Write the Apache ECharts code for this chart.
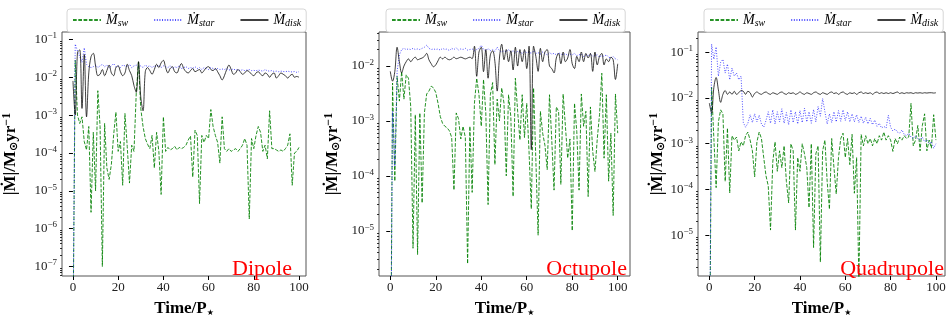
<!DOCTYPE html>
<html><head><meta charset="utf-8">
<script src="https://cdn.jsdelivr.net/npm/echarts@6/dist/echarts.min.js"></script>
<style>html,body{margin:0;padding:0;background:#fff}#c{width:951px;height:322px}</style>
</head><body><div id="c"></div>
<script>
const time = [0,1,2,3,4,5,6,7,8,9,10,11,12,13,14,15,16,17,18,19,20,21,22,23,24,25,26,27,28,29,30,31,32,33,34,35,36,37,38,39,40,41,42,43,44,45,46,47,48,49,50,51,52,53,54,55,56,57,58,59,60,61,62,63,64,65,66,67,68,69,70,71,72,73,74,75,76,77,78,79,80,81,82,83,84,85,86,87,88,89,90,91,92,93,94,95,96,97,98,99,100];

const xTicks = [0,20,40,60,80,100];
const yTicksDipole = [1e-7,1e-6,1e-5,1e-4,1e-3,1e-2,1e-1];
const yTicksOctupole = [1e-5,1e-4,1e-3,1e-2];
const yTicksQuadrupole = [1e-5,1e-4,1e-3,1e-2,1e-1];
const seriesNames = ['sw','star','disk'];
const panelTitles = ['Dipole','Octupole','Quadrupole'];

const dipoleSw = [1e-9,2.8e-2,1e-3,6e-4,9e-4,2e-4,1.2e-4,5e-4,2.7e-6,3.5e-4,
1e-5,4.4e-3,5e-4,1e-7,6e-4,4e-5,2e-5,5e-5,3e-4,1.2e-3,
1.1e-4,2e-4,1.4e-5,1.1e-3,1.5e-4,1.6e-5,1.6e-4,1.1e-4,3.8e-3,2.5e-2,
1.5e-3,5e-4,2.4e-4,1.7e-4,1.3e-4,2.9e-4,4e-5,3.5e-4,1.1e-4,8e-6,
9e-4,1.1e-4,1.4e-4,1.2e-4,1.3e-4,1.5e-4,1.2e-4,1.4e-4,1.3e-4,1.4e-4,
1.6e-4,2.2e-4,2.8e-4,2.3e-5,4e-4,2.9e-4,4.6e-6,2.9e-4,1.9e-4,2.9e-4,
2.4e-4,1.4e-3,5e-4,2.9e-4,1.9e-4,5.4e-5,9e-4,1.3e-4,1.1e-4,1.3e-4,
1.1e-4,1.2e-4,1.3e-4,1.1e-4,1.3e-4,1.6e-4,2.4e-4,1.6e-4,1.8e-6,2.4e-4,
1.3e-4,2.9e-4,5e-4,3.5e-4,1.1e-4,1.6e-4,7e-5,1.3e-3,1.3e-4,1.3e-4,
1.2e-4,1.1e-4,1.2e-4,1.1e-4,1.3e-4,1.6e-4,3.2e-4,1.4e-5,1e-4,1.1e-4,
1.4e-4];
const dipoleStar = [1e-9,0.075,0.05,0.035,0.025,0.06,0.022,0.019,0.018,0.019,
0.021,0.018,0.02,0.022,0.019,0.021,0.018,0.02,0.023,0.019,
0.02,0.018,0.021,0.02,0.019,0.022,0.018,0.02,0.021,0.019,
0.02,0.018,0.021,0.019,0.02,0.018,0.02,0.019,0.021,0.018,
0.02,0.019,0.018,0.02,0.017,0.019,0.018,0.02,0.017,0.018,
0.019,0.017,0.018,0.017,0.019,0.017,0.018,0.016,0.018,0.017,
0.016,0.018,0.017,0.016,0.017,0.016,0.0165,0.016,0.017,0.0155,
0.016,0.0165,0.0155,0.016,0.015,0.0158,0.015,0.0155,0.016,0.015,
0.0152,0.0148,0.0155,0.015,0.0145,0.016,0.0148,0.0145,0.015,0.0142,
0.0145,0.014,0.0145,0.0142,0.014,0.0145,0.014,0.0138,0.0142,0.0135,
0.014];
const dipoleDisk = [8e-3,1e-3,4.5e-2,5.3e-2,1.5e-3,4e-2,9e-4,1.3e-2,3.5e-2,4.3e-2,
2e-2,1.1e-2,1.2e-2,1.6e-2,1.1e-2,1.5e-2,2.1e-2,1.3e-2,1.1e-2,1.8e-2,
2e-2,1.4e-2,1.1e-2,1.3e-2,2.2e-2,1.5e-2,1.1e-2,6e-3,4e-3,2.6e-2,
3e-3,1.3e-3,1.4e-2,1.8e-2,1.5e-2,1.2e-2,1.6e-2,2.2e-2,1.8e-2,2.4e-2,
2.8e-2,1.8e-2,1.3e-2,1.7e-2,1.9e-2,1.4e-2,1.3e-2,1.8e-2,2.3e-2,1.7e-2,
1.4e-2,1.3e-2,1.5e-2,1.7e-2,1.4e-2,1.5e-2,1.6e-2,1.3e-2,1.5e-2,1.8e-2,
1.9e-2,1.6e-2,1.5e-2,1.7e-2,1.4e-2,1.1e-2,8.5e-3,1.1e-2,1.6e-2,2.1e-2,
1.6e-2,1.2e-2,1.3e-2,1.6e-2,1.4e-2,1.2e-2,1.3e-2,1.5e-2,1.4e-2,1.2e-2,
1.1e-2,1.3e-2,1.4e-2,1.2e-2,1.1e-2,1.3e-2,1.2e-2,1e-2,1.2e-2,1.3e-2,
9.5e-3,1.1e-2,1.3e-2,1.2e-2,1.1e-2,9.5e-3,1.1e-2,1.2e-2,1e-2,1.05e-2,
1e-2];

const octupoleSw = [1e-9,4.9e-3,8e-5,6.5e-3,2.3e-3,7.9e-3,2.5e-3,6.9e-3,6e-3,1.8e-3,
4.8e-6,1.3e-3,3.7e-6,1.4e-3,3.2e-5,1.4e-3,3.1e-3,3.5e-3,4.3e-3,4e-3,
3.3e-3,2.1e-3,1.2e-3,9e-4,8e-4,7.5e-4,6.6e-4,5e-4,5.5e-5,1.4e-3,
1.1e-3,4.7e-4,8e-4,5e-4,2.5e-6,8e-4,5e-5,2.1e-3,6e-3,3e-3,
8e-4,5.7e-3,1.4e-3,3e-5,3e-3,5e-3,1.6e-4,2.5e-3,1e-3,4e-3,
2.1e-3,1e-4,3e-3,1.2e-3,4.2e-5,6e-3,1.5e-3,4.5e-4,3e-3,5e-4,
2.1e-3,2.8e-4,2.5e-5,4e-3,2e-4,8.3e-6,1.5e-3,6e-4,3.6e-4,1.3e-4,
3e-3,4.5e-4,5.5e-5,1.8e-3,1.5e-3,7e-5,3.1e-3,8e-4,2.1e-4,4.7e-4,
1e-5,2.1e-3,6.5e-4,5.5e-5,3.1e-3,8e-4,1.5e-3,4.2e-5,1.8e-3,2.8e-4,
1.2e-4,4.7e-4,1.3e-3,7.4e-3,2.1e-4,3e-3,8e-5,6e-4,1.9e-5,3.1e-3,
6e-4];
const octupoleStar = [1e-9,1.5e-3,1.5e-4,8e-3,1.6e-2,2e-2,2.1e-2,2e-2,2.05e-2,2e-2,
2.1e-2,2e-2,2.05e-2,2e-2,2.1e-2,2.2e-2,2.4e-2,2.1e-2,2e-2,2.05e-2,
2e-2,2.05e-2,1.95e-2,2.1e-2,2e-2,2.05e-2,1.9e-2,2.1e-2,2e-2,2.15e-2,
1.95e-2,2.05e-2,2e-2,2.1e-2,1.95e-2,2e-2,2.05e-2,1.9e-2,2e-2,2.1e-2,
2.4e-2,2e-2,1.9e-2,2.1e-2,1.9e-2,2e-2,1.85e-2,2.2e-2,1.9e-2,1.8e-2,
1.9e-2,1.8e-2,2e-2,1.8e-2,1.9e-2,1.75e-2,1.85e-2,1.8e-2,1.7e-2,1.85e-2,
1.75e-2,1.8e-2,1.7e-2,1.9e-2,1.7e-2,1.75e-2,1.65e-2,1.8e-2,1.7e-2,1.6e-2,
1.75e-2,1.65e-2,1.7e-2,1.6e-2,1.75e-2,1.65e-2,1.6e-2,1.7e-2,1.55e-2,1.65e-2,
1.6e-2,1.7e-2,1.55e-2,1.6e-2,1.65e-2,1.5e-2,1.6e-2,1.55e-2,1.65e-2,1.5e-2,
1.55e-2,1.6e-2,1.45e-2,1.55e-2,1.5e-2,1.6e-2,1.45e-2,1.4e-2,1.5e-2,1.35e-2,
1.3e-2];
const octupoleDisk = [8e-3,5.3e-3,8e-3,2.2e-2,1.2e-2,7.5e-3,1e-2,1.2e-2,1.35e-2,1.2e-2,
1.35e-2,1.45e-2,1.3e-2,1.35e-2,1.4e-2,1.5e-2,1.7e-2,1.3e-2,1.1e-2,9.7e-3,
1.05e-2,1.25e-2,1.45e-2,1.35e-2,1.45e-2,1.35e-2,1.3e-2,1.35e-2,1.45e-2,1.36e-2,
1.4e-2,1.45e-2,1.4e-2,1.35e-2,1.4e-2,1.45e-2,1.36e-2,2.3e-2,6.5e-3,1.8e-2,
2.2e-2,7.9e-3,2e-2,6e-3,1.6e-2,1.9e-2,1.2e-2,3.5e-3,1.4e-2,2.5e-2,
1.3e-2,2e-2,1.2e-2,1.9e-2,8.5e-3,2.2e-2,1e-2,2e-2,1.2e-2,2e-2,
9e-3,2.3e-2,3e-4,2.3e-2,1.5e-2,8e-3,2.1e-2,1.2e-2,1.8e-2,2e-2,
1e-2,9e-3,7.5e-3,1.4e-2,1.7e-2,1.1e-2,1.8e-2,1.2e-2,1.4e-2,2e-2,
1.1e-2,9e-3,1.5e-2,1.2e-2,1.8e-2,1.2e-2,1.7e-2,1.4e-2,1.7e-2,8e-3,
1.8e-2,1.05e-2,1.5e-2,1.7e-2,1.05e-2,1.35e-2,1.2e-2,1.45e-2,1.3e-2,5.7e-3,
1.1e-2];

const quadrupoleSw = [1e-9,1.7e-2,1.3e-3,1.1e-4,3e-3,5.5e-3,4.5e-3,1.5e-4,2.2e-3,8.4e-5,
1.5e-3,1.2e-3,1.4e-3,7e-4,1.1e-3,9e-4,1.5e-3,1.8e-3,1.2e-3,7e-4,
1.9e-4,1.1e-3,1.8e-3,1.3e-3,5e-4,2e-4,1.2e-4,1.3e-5,4e-4,1.1e-3,
2.5e-4,7e-4,3e-4,9e-4,1.5e-4,5.1e-5,1e-3,7e-4,1.3e-5,5e-4,
2.5e-4,1e-3,6e-4,3e-4,4e-5,1e-3,5.4e-6,6e-4,9e-4,2.6e-6,
7e-4,1.2e-3,1.5e-4,3.7e-5,1.3e-3,3e-4,8e-5,5e-4,1.3e-3,1.7e-3,
5e-4,1.3e-3,3.5e-4,1.6e-3,8.3e-5,5e-4,1e-6,1.6e-3,9e-4,1.5e-3,
1e-3,1.3e-3,9e-4,1.3e-3,1e-3,1.5e-3,1.2e-3,1.8e-3,1.2e-3,1.5e-3,
1.2e-3,6.8e-4,1.3e-3,1e-3,1.4e-3,1.2e-3,1.5e-3,1.3e-3,1.4e-3,7.6e-3,
9e-4,1.2e-3,2.5e-3,7e-4,2.5e-3,4.5e-3,7e-4,1.2e-3,8e-4,4.3e-3,
1.2e-3];
const quadrupoleStar = [1e-9,0.15,0.07,0.13,0.03,0.06,0.07,0.035,0.055,0.025,
0.045,0.03,0.035,0.025,0.03,2.9e-3,2.3e-3,2.8e-3,4.3e-3,2.9e-3,
4.5e-3,3e-3,4.2e-3,2.7e-3,2.3e-3,3.2e-3,5e-3,2.8e-3,5.5e-3,2.7e-3,
5e-3,3e-3,5.8e-3,2.8e-3,4.8e-3,2.6e-3,5.5e-3,2.9e-3,5e-3,2.7e-3,
5.3e-3,2.9e-3,6e-3,3e-3,5e-3,2.8e-3,5.6e-3,3e-3,6.5e-3,4e-3,
9.7e-3,5e-3,2.7e-3,4.5e-3,2.9e-3,5e-3,3e-3,5.3e-3,3.1e-3,5.5e-3,
3.2e-3,5e-3,3e-3,4.5e-3,3e-3,4.3e-3,2.9e-3,4e-3,2.8e-3,3.8e-3,
2.7e-3,3.6e-3,2.6e-3,3.3e-3,2.4e-3,2.8e-3,2.2e-3,2.4e-3,2.2e-3,4.2e-3,
2.3e-3,1.9e-3,2.1e-3,1.8e-3,1.7e-3,2e-3,1.6e-3,1.5e-3,1.7e-3,1.4e-3,
1.3e-3,1.5e-3,1.3e-3,1.2e-3,1.4e-3,1.1e-3,1.2e-3,1e-3,1.1e-3,8e-4,
1e-3];
const quadrupoleDisk = [7.7e-3,4.7e-3,1.7e-2,2.8e-2,1.5e-2,8e-3,1.2e-2,1.45e-2,1.2e-2,1.35e-2,
1.2e-2,1.4e-2,1.2e-2,1.3e-2,1.45e-2,1.4e-2,1.2e-2,1.4e-2,1.3e-2,1.05e-2,
1.25e-2,1.35e-2,1.25e-2,1.2e-2,1.3e-2,1.35e-2,1.25e-2,1.2e-2,1.3e-2,1.25e-2,
1.2e-2,1.3e-2,1.35e-2,1.25e-2,1.2e-2,1.3e-2,1.25e-2,1.3e-2,1.2e-2,1.25e-2,
1.35e-2,1.25e-2,1.2e-2,1.3e-2,1.25e-2,1.2e-2,1.3e-2,1.35e-2,1.25e-2,1.2e-2,
1.3e-2,1.25e-2,1.2e-2,1.3e-2,1.35e-2,1.25e-2,1.3e-2,1.2e-2,1.3e-2,1.35e-2,
1.25e-2,1.2e-2,1.3e-2,1.25e-2,1.3e-2,1.2e-2,1.3e-2,1.35e-2,1.25e-2,1.3e-2,
1.25e-2,1.3e-2,1.2e-2,1.3e-2,1.35e-2,1.25e-2,1.3e-2,1.25e-2,1.3e-2,1.25e-2,
1.3e-2,1.25e-2,1.3e-2,1.35e-2,1.25e-2,1.3e-2,1.25e-2,1.3e-2,1.28e-2,1.3e-2,
1.25e-2,1.3e-2,1.28e-2,1.3e-2,1.27e-2,1.3e-2,1.28e-2,1.3e-2,1.3e-2,1.28e-2,
1.3e-2];

const SERIF = '"Liberation Serif","Times New Roman",serif';
const panels = [
  {sw:dipoleSw, star:dipoleStar, disk:dipoleDisk, yTicks:yTicksDipole,
   grid:{left:61, top:32, width:245, height:254}, xr:[-4.85,103.1], yr:[5.6e-8,0.157],
   legendLeft:67, nameGap:41, textRight:292},
  {sw:octupoleSw, star:octupoleStar, disk:octupoleDisk, yTicks:yTicksOctupole,
   grid:{left:379, top:32, width:251, height:254}, xr:[-4.96,105.4], yr:[1.5e-6,0.0417],
   legendLeft:386, nameGap:36, textRight:627},
  {sw:quadrupoleSw, star:quadrupoleStar, disk:quadrupoleDisk, yTicks:yTicksQuadrupole,
   grid:{left:698, top:32, width:247, height:254}, xr:[-5,104], yr:[1.29e-6,0.276],
   legendLeft:704, nameGap:30, textRight:944}
];

function minorTicks(lo, hi){
  const out = [];
  for (let e = Math.floor(Math.log10(lo)); e <= Math.ceil(Math.log10(hi)); e++) {
    for (let m = 2; m <= 9; m++) { const v = m * Math.pow(10, e); if (v >= lo && v <= hi) out.push(v); }
  }
  return out;
}
function pairs(vals){ return time.map((t,i)=>[t, vals[i]]); }

const styles = {
  sw:   {color:'#008000', width:1, type:[3.7,1.6], opacity:0.85},
  star: {color:'#0000ff', width:1, type:[1,1.6], opacity:0.7},
  disk: {color:'#000000', width:1, type:'solid', opacity:0.75}
};

const option = {
  animation:false,
  backgroundColor:'#fff',
  grid:[], xAxis:[], yAxis:[], series:[], legend:[], graphic:[]
};

panels.forEach((p, i) => {
  option.grid.push(Object.assign({show:true, borderColor:'#555', borderWidth:1, backgroundColor:'transparent'}, p.grid));
  option.xAxis.push({
    type:'value', gridIndex:i, min:p.xr[0], max:p.xr[1],
    axisLine:{show:false}, splitLine:{show:false},
    axisTick:{show:true, customValues:xTicks, length:4, lineStyle:{color:'#000'}},
    axisLabel:{customValues:xTicks, fontFamily:SERIF, fontSize:13, color:'#222', margin:5},
    name:'Time/P{s|★}', nameLocation:'middle', nameGap:24,
    nameTextStyle:{fontFamily:SERIF, fontSize:17, fontWeight:'bold', color:'#000',
      rich:{s:{fontFamily:'DejaVu Sans', fontSize:8, color:'#000', padding:[8,0,0,0]}}}
  });
  option.yAxis.push({
    type:'log', logBase:10, gridIndex:i, min:p.yr[0], max:p.yr[1], position:'left',
    axisLine:{show:false}, splitLine:{show:false},
    axisTick:{show:true, customValues:p.yTicks, length:4, lineStyle:{color:'#000'}},
    axisLabel:{customValues:p.yTicks, margin:5, color:'#222', fontFamily:SERIF, fontSize:13,
      formatter:(v)=>'10{s|−'+Math.round(-Math.log10(v))+'}',
      rich:{s:{fontFamily:SERIF, fontSize:9, color:'#222', padding:[0,0,7,0]}}},
    name:'|Ṁ|/M{sub|⊙}yr{sup|−1}', nameLocation:'middle', nameRotate:90, nameGap:p.nameGap,
    nameTextStyle:{fontFamily:SERIF, fontSize:17, fontWeight:'bold', color:'#000',
      rich:{sub:{fontFamily:'DejaVu Sans', fontSize:11, fontWeight:'bold', padding:[6,0,0,0]},
            sup:{fontFamily:SERIF, fontSize:12, fontWeight:'bold', padding:[0,0,8,0]}}}
  });
  option.yAxis.push({
    type:'log', logBase:10, gridIndex:i, min:p.yr[0], max:p.yr[1], position:'left',
    axisLine:{show:false}, splitLine:{show:false}, axisLabel:{show:false},
    axisTick:{show:true, customValues:minorTicks(p.yr[0], p.yr[1]), length:2, lineStyle:{color:'#000', width:0.8}}
  });
  seriesNames.forEach((n) => {
    const st = styles[n];
    option.series.push({
      type:'line', name:n, xAxisIndex:i, yAxisIndex:2*i, data:pairs(p[n]),
      showSymbol:false, symbol:'none', smooth: n==='disk' ? 0.35 : false, clip:true,
      lineStyle:{color:st.color, width:st.width, type:st.type, opacity:st.opacity},
      itemStyle:{color:st.color}, emphasis:{disabled:true}
    });
  });
  option.legend.push({
    data:seriesNames, left:p.legendLeft, top:9, orient:'horizontal',
    itemWidth:28, itemHeight:10, itemGap:25, padding:[4,5,4,5],
    borderColor:'#d6d6d6', borderWidth:1, borderRadius:3, backgroundColor:'#fff',
    selectedMode:false,
    itemStyle:{opacity:0, borderWidth:0},
    formatter:(n)=>'Ṁ{s|'+n+'}',
    textStyle:{fontFamily:SERIF, fontStyle:'italic', fontSize:14, color:'#000',
      rich:{s:{fontFamily:SERIF, fontStyle:'italic', fontSize:10, color:'#000', padding:[6,0,0,0]}}}
  });
  option.graphic.push({
    type:'text', x:p.textRight, y:280, z:100,
    style:{text:panelTitles[i], fill:'#ff0000', font:'22px "Liberation Serif"', align:'right', verticalAlign:'bottom'}
  });
});

const chart = echarts.init(document.getElementById('c'));
chart.setOption(option);
</script></body></html>
